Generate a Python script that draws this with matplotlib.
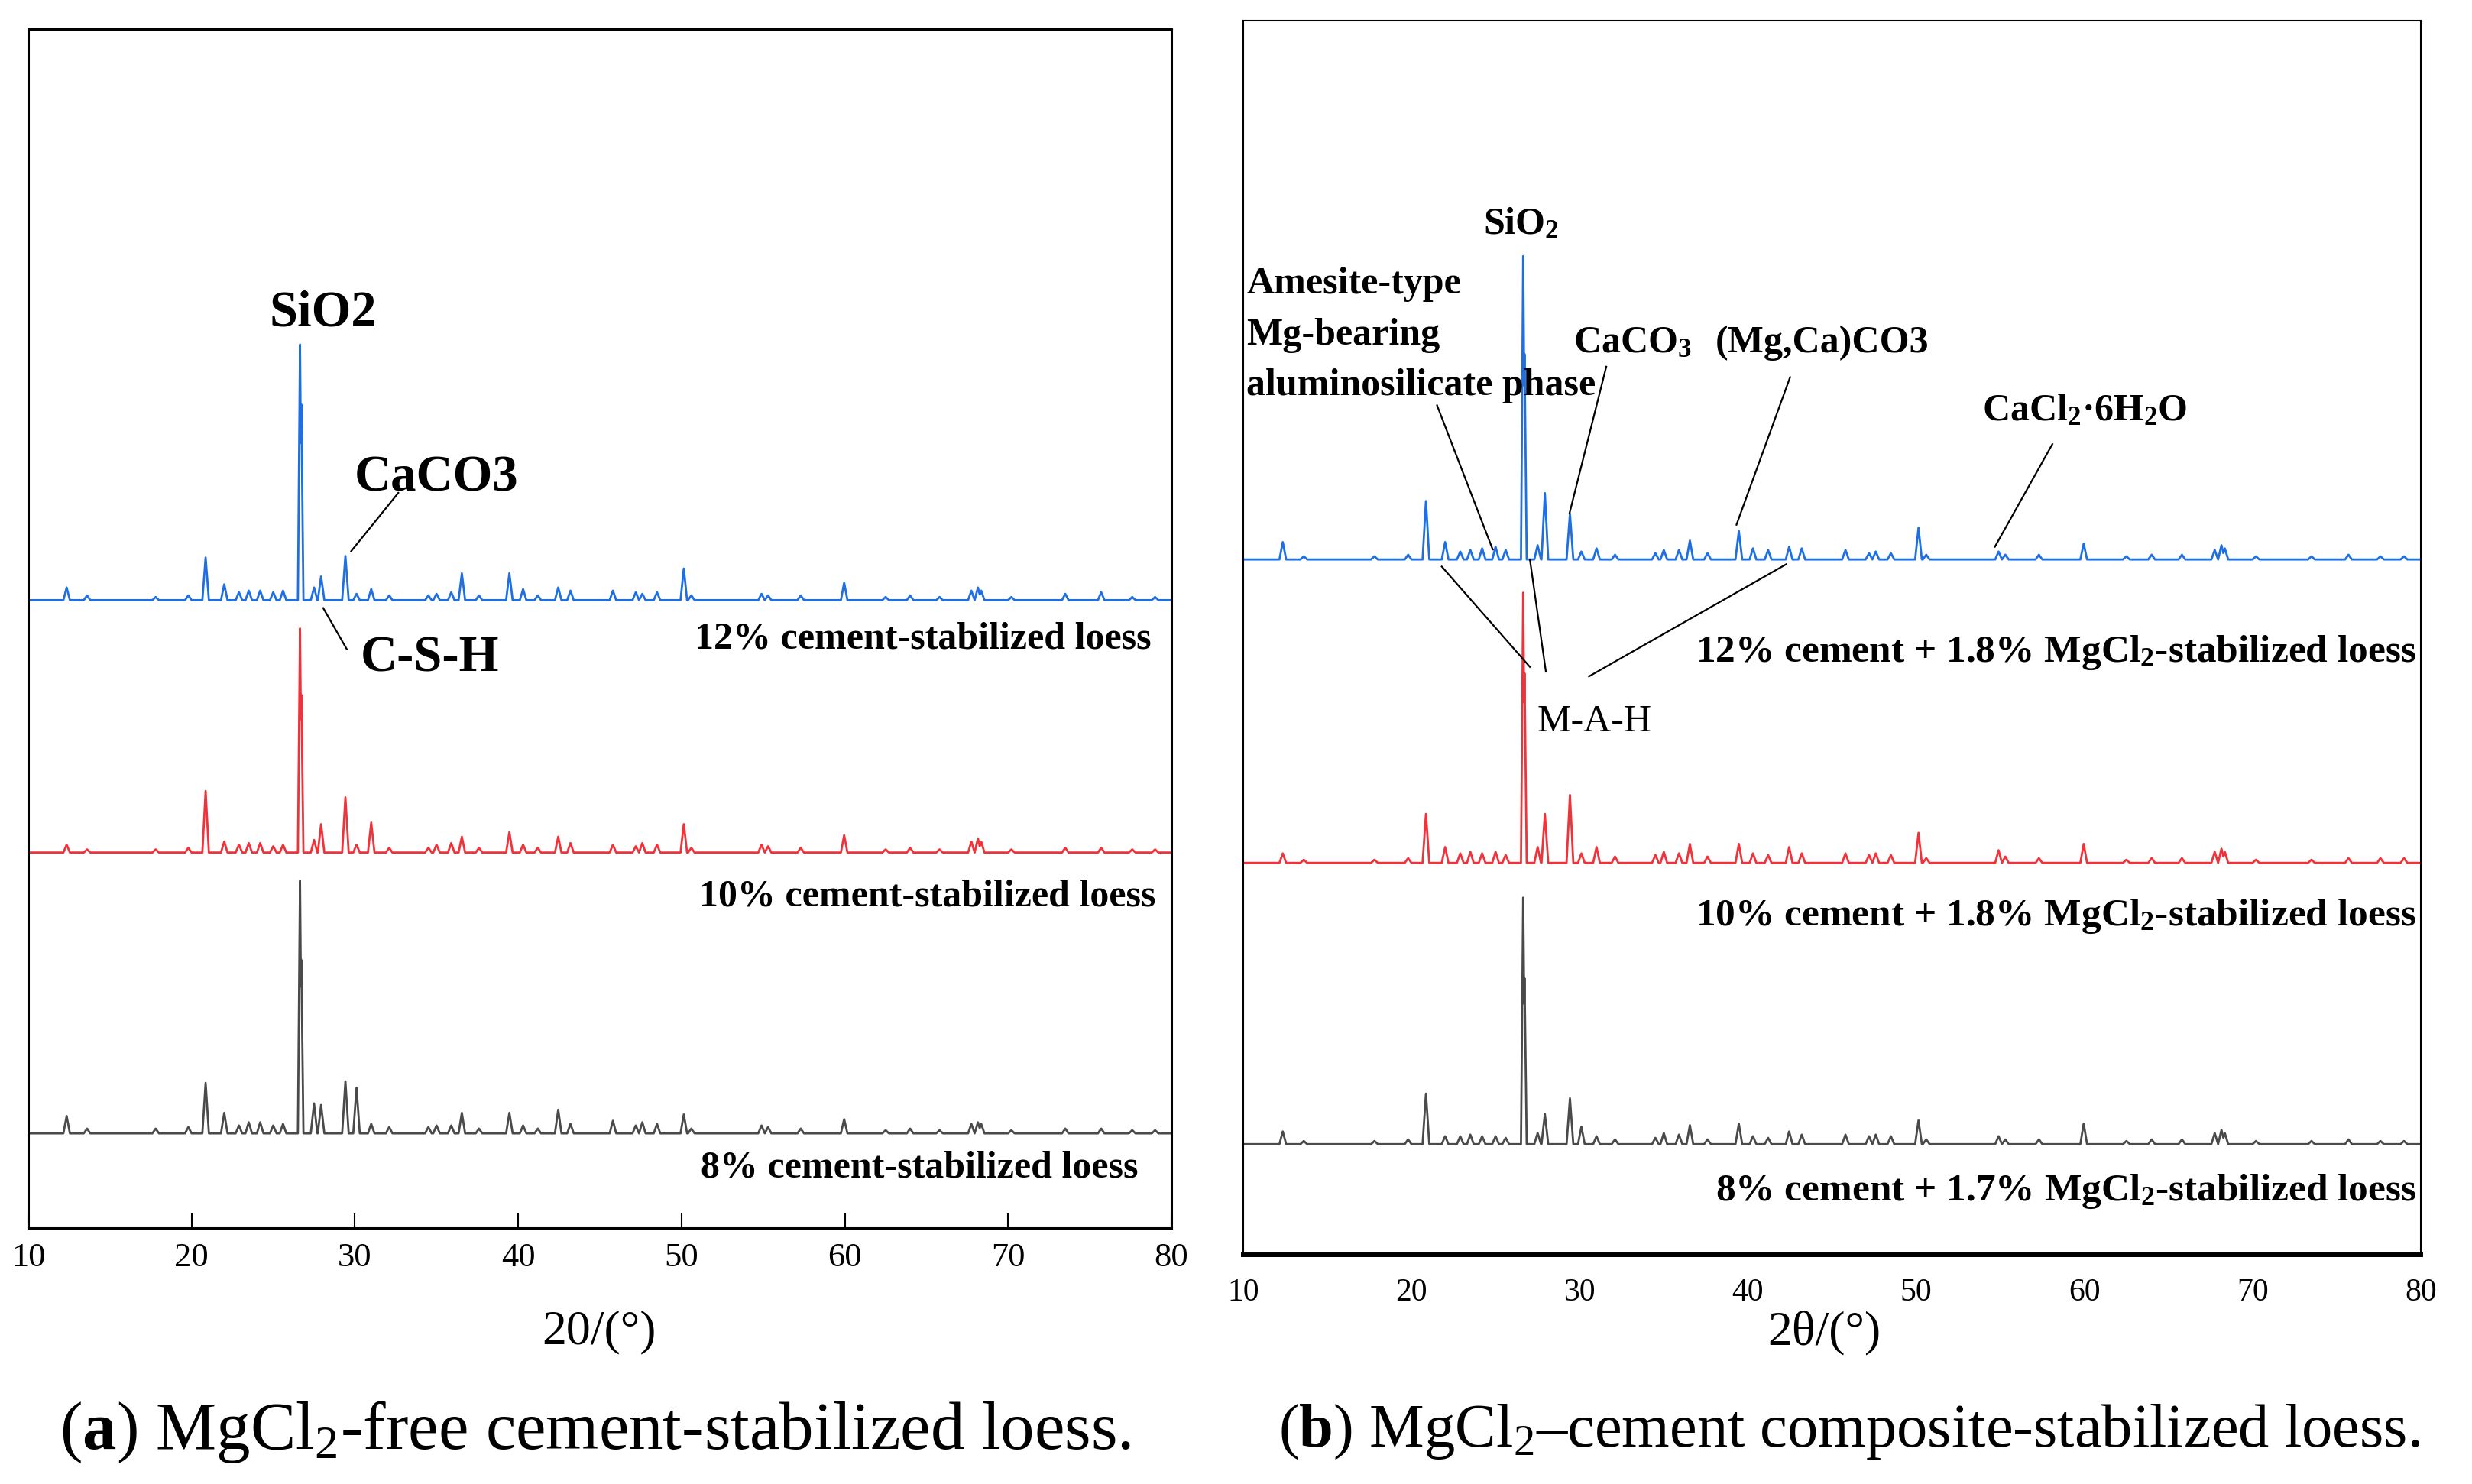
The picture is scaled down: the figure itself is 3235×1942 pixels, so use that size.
import numpy as np
import matplotlib
matplotlib.use("Agg")
import matplotlib.pyplot as plt

plt.rcParams['font.family'] = ['Liberation Serif', 'DejaVu Serif']
plt.rcParams['mathtext.fontset'] = 'custom'
plt.rcParams['mathtext.rm'] = 'Liberation Serif'
plt.rcParams['mathtext.bf'] = 'Liberation Serif:bold'
plt.rcParams['mathtext.default'] = 'regular'

# ---------------- data (2theta in degrees, intensity in a.u.) ----------------
peak_pos = [12.35, 13.6, 17.8, 19.8, 20.86, 22.0, 22.9, 23.5, 24.2, 25.0, 25.6,
            26.64, 26.72, 27.5, 27.93, 29.42, 30.1, 31.0, 32.1, 34.5, 35.0, 35.9,
            36.55, 37.6, 39.46, 40.3, 41.2, 42.45, 43.2, 45.8, 47.2, 47.6, 48.5,
            50.14, 50.6, 54.9, 55.3, 57.3, 59.96, 62.5, 64.0, 65.8, 67.75, 68.15,
            68.35, 70.2, 73.5, 75.7, 77.6, 79.0]

# (a) MgCl2-free
a12_base = 398
a12_h = [8, 3, 2, 3, 27, 10, 5, 6, 6, 5, 6,
         162, 124, 8, 15, 28, 4, 7, 3, 3, 4, 5,
         17, 3, 17, 7, 3, 8, 6, 6, 5, 4, 5,
         20, 3, 4, 3, 3, 11, 2, 3, 2, 6, 8,
         6, 2, 4, 5, 2, 2]
a10_base = 238
a10_h = [5, 2, 2, 3, 39, 7, 5, 6, 6, 4, 5,
         142, 100, 8, 18, 35, 5, 19, 3, 3, 5, 6,
         10, 3, 13, 5, 3, 10, 6, 5, 4, 6, 5,
         18, 3, 5, 4, 3, 11, 2, 3, 2, 7, 9,
         7, 2, 3, 3, 2, 2]
a8_base = 60
a8_h = [11, 3, 3, 4, 32, 13, 5, 7, 7, 5, 6,
        160, 110, 19, 18, 33, 29, 6, 4, 4, 5, 5,
        13, 3, 13, 5, 3, 15, 6, 8, 5, 7, 6,
        12, 3, 5, 4, 3, 9, 2, 3, 2, 6, 7,
        6, 2, 3, 3, 2, 2]

# (b) MgCl2-cement composite
b12_base = 440
b12_h = [11, 2, 2, 3, 37, 11, 5, 6, 7, 8, 6,
         192, 130, 9, 42, 29, 5, 7, 3, 4, 6, 6,
         12, 4, 18, 7, 6, 8, 7, 6, 4, 5, 4,
         20, 3, 5, 3, 3, 10, 2, 3, 3, 6, 9,
         7, 2, 2, 3, 2, 2]
b10_base = 248
b10_h = [6, 2, 2, 3, 31, 10, 6, 7, 6, 7, 5,
         171, 120, 10, 31, 43, 6, 10, 4, 5, 7, 6,
         12, 4, 12, 6, 5, 10, 6, 6, 5, 6, 5,
         19, 3, 8, 4, 3, 12, 2, 3, 3, 7, 9,
         7, 2, 2, 3, 3, 3]
b8_base = 70
b8_h = [8, 2, 2, 3, 32, 5, 5, 6, 5, 5, 4,
        156, 105, 7, 19, 29, 11, 5, 3, 4, 7, 6,
        12, 3, 13, 5, 4, 8, 6, 6, 5, 6, 5,
        15, 3, 5, 3, 3, 13, 2, 3, 3, 7, 9,
        7, 2, 2, 3, 2, 2]

labels_a = ["12% cement-stabilized loess", "10% cement-stabilized loess",
            "8% cement-stabilized loess"]
labels_b = [r"12% cement + 1.8% MgCl$_2$-stabilized loess",
            r"10% cement + 1.8% MgCl$_2$-stabilized loess",
            r"8% cement + 1.7% MgCl$_2$-stabilized loess"]

BLUE = "#1f6fe3"
RED = "#f0323a"
GRAY = "#4a4a4a"

xgrid = np.linspace(10, 80, 7001)


def pattern(base, heights, w=0.2):
    y = np.zeros_like(xgrid)
    for p, h in zip(peak_pos, heights):
        ww = 0.13 if h > 90 else w
        tri = np.clip(1 - np.abs(xgrid - p) / ww, 0, None) * h
        y = np.maximum(y, tri)
    return base + y


W, H = 3235, 1942
fig = plt.figure(figsize=(W / 100, H / 100), dpi=100)

axA = fig.add_axes([37 / W, 1 - 1607 / H, (1533 - 37) / W, (1607 - 38) / H])
axB = fig.add_axes([1627 / W, 1 - 1642 / H, (3168 - 1627) / W, (1642 - 27) / H])

# ---------------- panel (a) ----------------
for base, hs, c in [(a12_base, a12_h, BLUE), (a10_base, a10_h, RED), (a8_base, a8_h, GRAY)]:
    axA.plot(xgrid, pattern(base, hs), color=c, lw=2.0)
axA.set_xlim(10, 80)
axA.set_ylim(0, 760)
axA.set_yticks([])
axA.set_xticks(np.arange(10, 81, 10))
axA.tick_params(axis='x', direction='in', length=14, width=1.5, pad=14, labelsize=32)
for s in axA.spines.values():
    s.set_linewidth(2.2)

bold48 = dict(fontsize=48, fontweight='bold', ha='center', va='center')
axA.text(28.06, 580, "SiO2", **bold48)
axA.text(35.0, 475, "CaCO3", **bold48)
axA.text(34.6, 361, "C-S-H", **bold48)
axA.plot([29.77, 32.66], [429, 466], color='k', lw=1.6)
axA.plot([28.06, 29.5], [393, 367], color='k', lw=1.6)
for lab, (xx, yy) in zip(labels_a, [(78.75, 373), (79.04, 210), (77.97, 38)]):
    axA.text(xx, yy, lab, fontsize=36, fontweight='bold', ha='right', va='center')

# ---------------- panel (b) ----------------
for base, hs, c in [(b12_base, b12_h, BLUE), (b10_base, b10_h, RED), (b8_base, b8_h, GRAY)]:
    axB.plot(xgrid, pattern(base, hs), color=c, lw=2.0)
axB.set_xlim(10, 80)
axB.set_ylim(0, 781)
axB.set_yticks([])
axB.set_xticks(np.arange(10, 81, 10))
axB.tick_params(axis='x', length=0, pad=22, labelsize=30)
for k, s in axB.spines.items():
    s.set_linewidth(4.3 if k == 'bottom' else 1.5)

bold36 = dict(fontsize=36, fontweight='bold', va='center')
axB.text(26.52, 652, r"SiO$_2$", ha='center', **bold36)
axB.text(10.19, 614, "Amesite-type", ha='left', **bold36)
axB.text(10.19, 582, "Mg-bearing", ha='left', **bold36)
axB.text(10.19, 550, "aluminosilicate phase", ha='left', **bold36)
axB.text(29.61, 577, r"CaCO$_3$", ha='left', **bold36)
axB.text(38.06, 577, "(Mg,Ca)CO3", ha='left', **bold36)
axB.text(53.91, 534, r"CaCl$_2$·6H$_2$O", ha='left', **bold36)
axB.text(27.45, 337, "M-A-H", ha='left', va='center', fontsize=36)
for (x0, y0, x1, y1) in [(21.52, 537.5, 24.83, 446.3), (31.58, 562, 29.40, 469.5),
                         (42.51, 555.4, 39.32, 462), (58.10, 513, 54.68, 448),
                         (21.80, 435.5, 27.04, 372), (27.04, 440, 27.99, 369),
                         (42.28, 437, 30.55, 366)]:
    axB.plot([x0, x1], [y0, y1], color='k', lw=1.6)
for lab, yy in zip(labels_b, [381, 214, 40]):
    axB.text(79.72, yy, lab, ha='right', fontsize=37, fontweight='bold', va='center')

# ---------------- axis titles and captions ----------------
fig.text(0.2423, 0.102, "20/(°)", fontsize=46, ha='center', va='center')
fig.text(0.7379, 0.102, "2θ/(°)", fontsize=46, ha='center', va='center')
fig.text(0.0242, 0.035, r"($\mathbf{a}$) MgCl$_2$-free cement-stabilized loess.",
         fontsize=64, ha='left', va='center')
fig.text(0.979, 0.035, r"($\mathbf{b}$) MgCl$_2$–cement composite-stabilized loess.",
         fontsize=58, ha='right', va='center')

fig.savefig("out.png", dpi=100)
